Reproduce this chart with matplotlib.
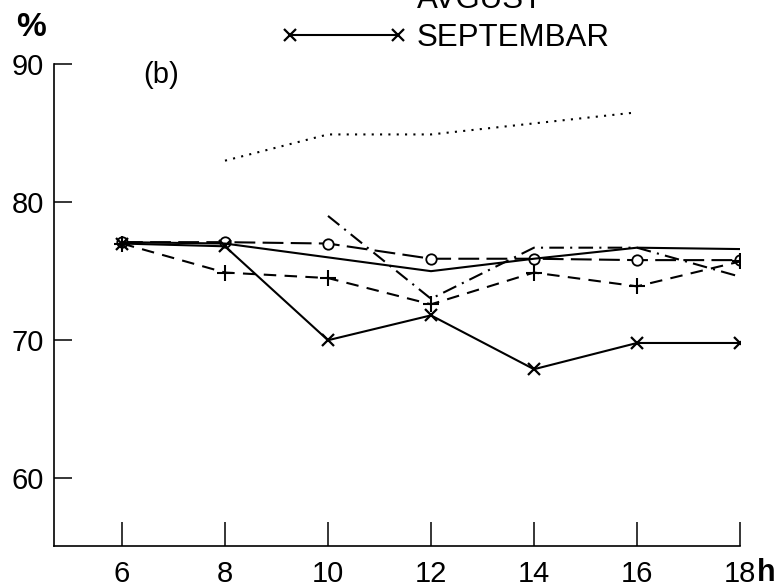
import numpy as np
import matplotlib
matplotlib.use("Agg")
import matplotlib.pyplot as plt
from matplotlib.lines import Line2D
from matplotlib.legend_handler import HandlerLine2D

plt.rcParams['font.family'] = ['Liberation Sans', 'DejaVu Sans']

# ---- data ----
hours = [6, 8, 10, 12, 14, 16, 18]
septembar = [77.0, 76.8, 70.0, 71.8, 67.9, 69.8, 69.8]
avgust = [77.1, 77.0, 76.0, 75.0, 75.9, 76.7, 76.6]
circles = [77.1, 77.1, 77.0, 75.9, 75.9, 75.8, 75.8]
plus = [77.0, 74.9, 74.5, 72.6, 74.9, 73.9, 75.7]
dashdot = [np.nan, np.nan, 79.0, 73.0, 76.7, 76.7, 74.6]
dotted = [np.nan, 83.0, 84.9, 84.9, 85.7, 86.5, np.nan]
xticks = [6, 8, 10, 12, 14, 16, 18]
yticks = [60, 70, 80, 90]

W, H = 778, 588
fig = plt.figure(figsize=(W / 100, H / 100), dpi=100)
ax = fig.add_axes([54 / W, 42 / H, (740 - 54) / W, (546 - 64) / H])
ax.set_xlim(4.68, 18)
ax.set_ylim(55.1, 90)

lw = 1.5
ax.plot(hours, dotted, color='black', lw=lw, dashes=(1, 3), dash_capstyle='butt')
ax.plot(hours, dashdot, color='black', lw=lw, dashes=(7, 3, 1, 3))
ax.plot(hours, circles, color='black', lw=lw, dashes=(10, 3.5), marker='o',
        ms=7.5, mfc='white', mec='black', mew=1.3, zorder=2.5)
ax.plot(hours, plus, color='black', lw=lw, dashes=(6, 4), marker='+',
        ms=11, mew=1.5, zorder=3)
ax.plot(hours, avgust, color='black', lw=lw, zorder=3)
ax.plot(hours, septembar, color='black', lw=lw, marker='x', ms=8, mew=1.6,
        zorder=3)

for s in ['top', 'right']:
    ax.spines[s].set_visible(False)
for s in ['left', 'bottom']:
    ax.spines[s].set_linewidth(1.2)

ax.set_xticks(xticks)
ax.set_yticks(yticks)
ax.tick_params(axis='x', direction='in', length=17, width=1.1, pad=10,
               labelsize=21)
ax.tick_params(axis='y', direction='in', length=13, width=1.1, pad=7,
               labelsize=21)

ax.text(0.156, 0.977, '(b)', transform=ax.transAxes, fontsize=21,
        ha='center', va='center')
fig.text(31 / W, 1 - 28 / H, '%', fontsize=24, fontweight='bold',
         ha='center', va='center')
fig.text(766 / W, 1 - 573 / H, 'h', fontsize=22, fontweight='bold',
         ha='center', va='center')

handles = [Line2D([], [], color='black', lw=lw),
           Line2D([], [], color='black', lw=lw, marker='x', ms=8, mew=1.6)]
fig.legend(handles, ['AVGUST', 'SEPTEMBAR'], loc='lower left',
           bbox_to_anchor=(290 / W, 1 - 53 / H), frameon=False, fontsize=22.5,
           handlelength=3.46, handletextpad=0.6, labelspacing=0.25,
           borderpad=0, borderaxespad=0,
           handler_map={Line2D: HandlerLine2D(marker_pad=0, numpoints=2)})

fig.savefig('out.png', dpi=100)
